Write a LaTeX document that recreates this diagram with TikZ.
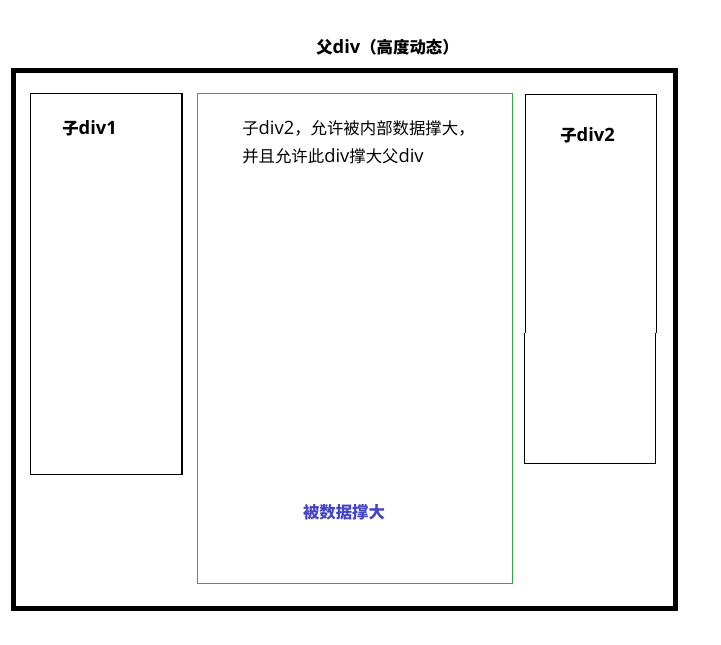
\documentclass[tikz,border=0pt]{standalone}
\usepackage{fontspec}
\setmainfont{Noto Sans CJK SC}
\newfontfamily\lat[Scale=1.12]{Open Sans}
\newcommand{\lt}[1]{{\lat #1}}
\begin{document}
\begin{tikzpicture}[x=0.75pt,y=-0.75pt,
  lbl/.style={inner sep=0pt,font=\fontsize{12.3pt}{15pt}\selectfont},
  blbl/.style={lbl,font=\fontsize{12.3pt}{15pt}\selectfont\bfseries},
  thinbox/.style={draw=black,line width=0.8pt},
  greenbox/.style={draw=boxgreen,line width=1pt}]
\definecolor{boxgreen}{HTML}{2EAA48}
\definecolor{txtblue}{HTML}{4545C8}
\useasboundingbox (0,0) rectangle (721,644);
% outer parent box
\draw[line width=3.75pt] (13.5,70) rectangle (675.5,608);
\node[blbl,anchor=west] (title) at (316,47) {父\lt{div}（高度动态）};
% child div1
\draw[thinbox] (30.5,93.5) rectangle (182,474.5);
\node[blbl,anchor=west] (c1) at (62,128) {子\lt{div1}};
% child div2 (middle, green)
\draw[greenbox] (197.5,93.5) rectangle (512.5,583.5);
\node[lbl,anchor=west] (m1) at (242,128) {子\lt{div2}，允许被内部数据撑大，};
\node[lbl,anchor=west] (m2) at (242,156) {并且允许此\lt{div}撑大父\lt{div}};
\node[blbl,text=txtblue] (m3) at (344,512) {被数据撑大};
% right child div2 (with slight offset seam)
\draw[thinbox] (525.5,333) -- (525.5,94.5) -- (656.5,94.5) -- (656.5,333);
\draw[thinbox] (524.5,333) -- (524.5,463.5) -- (655.5,463.5) -- (655.5,333);
\node[blbl,anchor=west] (c3) at (560,135) {子\lt{div2}};
\end{tikzpicture}
\end{document}
